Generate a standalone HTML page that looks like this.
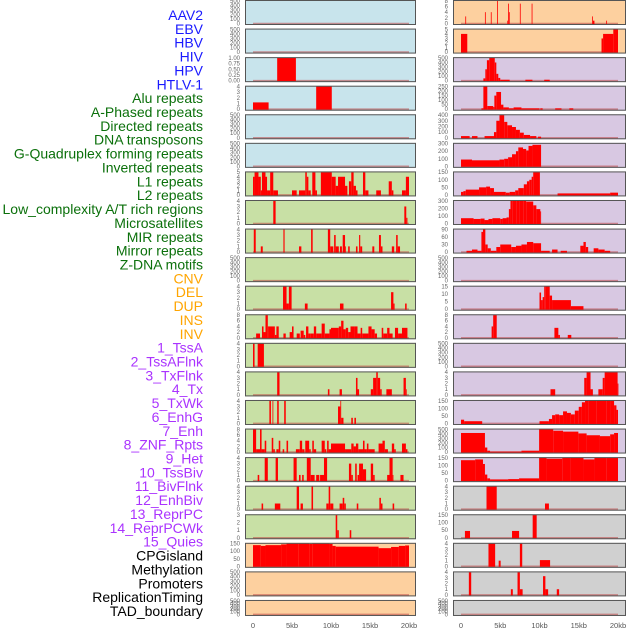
<!DOCTYPE html>
<html><head><meta charset="utf-8"><style>
body{margin:0;background:#fff;width:630px;height:630px;overflow:hidden}
svg{display:block;font-family:"Liberation Sans",sans-serif}
</style></head><body>
<svg id="chart" width="630" height="630" viewBox="0 0 630 630" xmlns="http://www.w3.org/2000/svg"></svg>
<script>
const trackLabels=["AAV2","EBV","HBV","HIV","HPV","HTLV-1","Alu repeats","A-Phased repeats","Directed repeats","DNA transposons","G-Quadruplex forming repeats","Inverted repeats","L1 repeats","L2 repeats","Low_complexity A/T rich regions","Microsatellites","MIR repeats","Mirror repeats","Z-DNA motifs","CNV","DEL","DUP","INS","INV","1_TssA","2_TssAFlnk","3_TxFlnk","4_Tx","5_TxWk","6_EnhG","7_Enh","8_ZNF_Rpts","9_Het","10_TssBiv","11_BivFlnk","12_EnhBiv","13_ReprPC","14_ReprPCWk","15_Quies","CPGisland","Methylation","Promoters","ReplicationTiming","TAD_boundary"];
const labelGroups=[6,13,5,15,5];
const groupColors=["#1a1aff","#0b700b","#ffa500","#aa33ff","#000000"];
const xTicks=[0,5,10,15,20];
const xTickLabels=["0","5kb","10kb","15kb","20kb"];
const T500=["0","100","200","300","400","500"],T4=["0","1","2","3","4"],T8=["0","2","4","6","8"],T150=["0","50","100","150"];
const leftBg=["#c8e4ec","#c8e4ec","#c8e4ec","#c8e4ec","#c8e4ec","#c8e4ec","#c8e0a5","#c8e0a5","#c8e0a5","#c8e0a5","#c8e0a5","#c8e0a5","#c8e0a5","#c8e0a5","#c8e0a5","#c8e0a5","#c8e0a5","#c8e0a5","#c8e0a5","#fdd09f","#fdd09f","#fdd09f"];
const rightBg=["#fdd09f","#fdd09f","#d8c8e2","#d8c8e2","#d8c8e2","#d8c8e2","#d8c8e2","#d8c8e2","#d8c8e2","#d8c8e2","#d8c8e2","#d8c8e2","#d8c8e2","#d8c8e2","#d8c8e2","#d8c8e2","#d8c8e2","#d0d0d0","#d0d0d0","#d0d0d0","#d0d0d0","#d0d0d0"];
const leftTicks=[T500,T500,["0.00","0.25","0.50","0.75","1.00"],T4,T500,T500,["0","1","2","3","4","5"],T4,T4,T500,T4,T8,T4,T4,T4,T8,T4,T4,["0","1","2","3"],T150,T500,T500];
const rightTicks=[T8,["0","1","2","3","4","5"],T500,["0","50","100","150","200","250"],["0","100","200","300","400"],["0","100","200","300"],T150,["0","100","200","300"],["0","30","60","90"],T500,["0","5","10","15"],T8,T500,T4,T150,T500,T150,T4,T150,T4,T4,T500];
const leftBars=[
[],[],
[[3.1,5.5,1]],
[[0,2.0,1.2],[8.1,10.1,4]],
[],[],
[[0,0.2,4],[0.2,0.7,5],[0.7,1.0,4],[1.0,1.15,1],[1.15,1.6,5],[1.6,1.8,4],[1.8,2.2,1],[2.2,2.6,5],[2.6,3.2,1],[5.0,5.6,1],[5.9,6.7,1],[6.7,6.9,5],[6.9,7.1,4],[7.1,7.4,1],[7.6,8.0,5],[8.0,8.2,1],[8.7,10.1,5],[10.1,10.6,4],[10.6,10.9,2],[10.9,11.8,4],[11.8,12.1,2],[12.3,12.6,3],[12.6,12.9,5],[12.9,13.2,2],[13.2,13.4,1],[14.1,14.4,5],[14.4,14.8,1],[15.8,16.4,1],[17.4,17.8,3],[17.8,18.0,1],[19.1,19.6,1],[19.6,20,4]],
[[2.6,2.9,4],[19.4,19.65,3],[19.65,19.8,1]],
[[0.1,0.35,4],[1.0,1.25,1],[3.9,4.05,4],[5.9,6.2,1],[7.45,7.65,4],[9.6,9.9,4],[9.9,10.3,1],[10.4,10.6,3],[10.6,11.0,1],[11.15,11.4,1],[11.5,11.8,3],[11.8,11.9,1],[12.2,12.4,1],[13.2,13.4,1],[13.6,13.75,3],[13.75,14.0,1],[15.3,15.55,1],[16.15,16.4,3],[16.4,16.6,1],[17.8,18.1,1],[18.35,18.55,3],[18.55,18.85,1]],
[],
[[3.85,4.3,4],[4.3,4.6,1],[4.6,4.95,4],[6.65,7.0,1],[11.15,11.6,1],[17.7,18.0,3],[18.0,18.15,1],[19.5,19.7,1]],
[[0.4,0.9,1.5],[1.15,1.35,4],[1.35,1.6,2],[1.6,1.9,8],[1.9,2.0,4],[2.0,2.8,4],[2.8,3.0,1],[3.0,3.3,4],[3.9,4.2,1.5],[4.7,5.0,2],[5.0,5.2,4],[5.6,6.0,1.5],[6.1,6.5,2.5],[6.5,6.7,1],[6.8,7.1,4],[7.1,7.4,1.5],[7.4,7.8,1.5],[7.8,8.1,4],[8.1,8.4,1.5],[8.4,8.8,1.5],[8.8,9.2,5],[9.2,9.8,1.5],[9.8,10.0,3],[10.0,11.0,3.5],[11.0,11.3,4],[11.3,11.6,6],[11.6,11.9,3],[11.9,12.2,3.5],[12.2,12.5,2],[12.5,13.0,4],[13.0,13.4,4],[13.4,13.8,1.5],[13.8,14.0,3.5],[14.0,14.8,1.5],[14.8,15.2,4],[15.2,15.6,3],[15.6,15.9,1.5],[16.5,16.7,3.5],[16.7,17.2,1.5],[17.2,17.5,3.5],[17.5,17.9,1.5],[18.2,18.6,3.5],[18.6,19.1,1.5],[19.1,19.8,3.5]],
[[0,0.2,4],[0.6,1.4,4]],
[[3.1,3.4,4],[9.6,9.8,1],[11.1,11.4,1],[13.2,13.4,3],[13.4,13.6,1],[15.1,15.4,1],[15.4,15.8,3],[15.8,16.0,4],[16.0,16.3,3],[16.3,16.5,1],[17.1,17.8,1],[19.3,19.6,3],[19.6,19.7,1]],
[[2.1,2.3,4],[2.5,2.6,4],[3.1,3.3,4],[4.0,4.2,4],[10.9,11.2,3],[11.2,11.3,4],[11.3,11.6,1],[12.6,12.8,1],[13.0,13.2,1]],
[[0,0.4,8],[0.4,0.9,1],[0.9,1.1,8],[1.1,1.5,1],[1.5,1.7,4],[2.4,2.6,5],[2.6,2.8,1],[3.0,3.3,1],[3.3,3.5,4],[3.8,4.0,1],[4.3,4.5,4],[5.5,6.0,1],[6.0,6.3,4],[6.3,6.6,1],[6.7,7.2,4],[7.2,7.4,1],[7.6,7.8,4],[7.8,8.1,1],[8.8,9.2,4],[9.2,9.4,1],[9.5,9.7,4],[9.7,10.0,1],[10.0,11.8,3],[11.8,12.6,1],[12.6,12.9,3],[12.9,13.2,2],[13.2,13.5,3],[13.5,14.1,1],[14.1,14.3,4],[14.3,14.6,1],[14.6,14.8,3],[14.8,15.6,1],[16.1,16.6,3],[16.6,16.9,4],[16.9,17.3,1],[17.8,18.1,3],[18.1,18.3,1],[19.1,19.6,3],[19.6,19.8,1]],
[[0.6,0.8,1],[1.5,1.9,4],[2.9,3.2,4],[5.2,5.6,4],[5.9,6.1,1],[6.3,6.5,1],[6.9,7.4,4],[7.4,7.9,1],[8.1,8.5,1],[8.6,9.1,1],[9.1,9.5,4],[12.3,12.6,3],[12.6,12.8,1],[13.1,13.3,3],[13.4,13.6,1],[13.6,14.1,3],[14.1,14.5,2],[15.1,15.4,3],[15.4,15.6,1],[17.2,17.5,1],[17.5,17.9,4],[17.9,18.0,1],[18.9,19.3,1]],
[[1.1,1.3,1],[2.8,3.5,1],[5.6,5.9,4],[6.1,6.4,1],[7.5,7.7,4],[9.4,9.7,1],[9.7,9.9,4],[9.9,10.3,1],[11.1,11.5,1],[11.5,11.7,2],[11.7,11.9,1],[13.3,13.5,1],[16.2,16.4,2],[16.4,16.6,1],[17.9,18.1,1]],
[[10.6,10.8,3],[10.8,11.0,1],[12.4,12.6,1]],
[[0,1.0,140],[1.0,1.6,135],[1.6,3.6,140],[3.6,4.3,145],[4.3,5.8,150],[5.8,7.2,152],[7.2,7.6,148],[7.6,9.8,152],[9.8,10.2,148],[10.2,10.6,135],[10.6,16.1,130],[16.1,17.7,120],[17.7,18.7,128],[18.7,19.5,135],[19.5,20,138]],
[],[]
];
const rightBars=[
[[0.55,0.65,2.5],[3.05,3.15,4],[3.8,3.9,4],[4.6,4.7,8],[5.9,6.0,1],[6.0,6.1,7],[6.1,6.2,4],[7.5,7.6,7],[9.0,9.1,7],[16.7,16.8,2.5],[16.8,17.0,1],[18.5,18.6,1]],
[[0,0.8,4],[17.9,18.1,3],[18.1,19.4,4],[19.4,20,5]],
[[2.85,3.1,50],[3.1,3.3,250],[3.3,3.6,450],[3.6,4.3,500],[4.3,4.5,400],[4.5,4.75,150],[4.75,5.0,60],[5.0,6.2,20],[8.2,9.1,20],[10.6,11.3,20]],
[[2.6,2.85,10],[2.85,3.35,250],[3.35,4.1,35],[4.1,4.25,25],[4.25,4.5,150],[4.5,5.1,190],[5.1,5.4,50],[5.4,6.1,20],[6.1,6.7,10],[6.7,7.7,20],[7.7,10.0,10],[10.1,10.4,10],[12.0,12.8,10],[13.8,14.3,10]],
[[0,1.1,30],[1.4,2.1,30],[3.0,4.2,30],[4.2,4.5,100],[4.5,4.9,300],[4.9,5.5,420],[5.5,5.9,280],[5.9,6.5,220],[6.5,7.0,190],[7.0,7.5,140],[7.5,8.0,90],[8.0,8.8,50],[8.8,9.6,30],[9.8,10.2,20]],
[[0,1.4,90],[1.4,4.9,80],[4.9,5.5,90],[5.5,6.0,100],[6.0,6.5,120],[6.5,7.0,160],[7.0,7.3,200],[7.3,7.9,250],[7.9,8.3,230],[8.3,8.6,210],[8.6,9.1,270],[9.1,10.2,285]],
[[0,0.3,20],[0.3,0.6,25],[0.6,2.3,35],[2.3,3.2,50],[3.2,3.7,55],[3.7,4.2,45],[4.2,5.7,20],[5.7,6.2,15],[6.2,6.9,20],[6.9,7.3,30],[7.3,8.0,45],[8.0,8.4,70],[8.4,8.7,90],[8.7,9.0,100],[9.0,9.2,120],[9.2,10.05,158],[12.3,19.0,10],[19.0,20,15]],
[[0,1.6,70],[1.6,2.5,60],[2.5,3.0,65],[3.0,3.5,45],[3.5,4.0,60],[4.0,5.0,70],[5.0,5.3,60],[5.3,5.8,70],[5.8,6.1,80],[6.1,6.3,190],[6.3,6.6,300],[6.6,7.1,320],[7.1,7.5,340],[7.5,8.0,360],[8.0,8.3,350],[8.3,9.2,290],[9.2,9.6,240],[9.6,10.1,190],[10.1,10.2,160]],
[[0.7,1.4,5],[1.4,2.1,10],[2.1,2.6,5],[2.6,2.8,80],[2.8,3.1,105],[3.1,3.4,30],[3.4,3.8,15],[3.8,4.5,5],[4.5,5.0,20],[5.0,6.4,30],[6.4,7.0,20],[7.0,7.7,25],[7.7,8.4,30],[8.4,9.2,40],[9.2,10.2,35],[10.2,11.3,5],[11.6,12.3,10],[12.7,13.5,5],[15.2,15.6,25],[15.6,15.9,40],[15.9,16.2,20],[16.9,17.5,15],[17.5,18.3,10],[18.3,19.0,5]],
[],
[[10.0,10.2,11],[10.2,10.4,6],[10.4,10.6,8],[10.6,10.8,15],[10.8,11.3,16],[11.3,11.6,9],[11.6,14.0,6],[14.0,15.6,2]],
[[3.9,4.1,4],[4.1,4.55,8],[11.9,12.4,3.5],[12.4,12.6,1],[13.6,14.05,1]],
[],
[[11.4,12.0,1],[15.7,16.0,3],[16.0,16.5,4],[16.5,16.8,1],[17.5,18.05,1],[18.05,18.3,3],[18.3,19.95,4],[19.95,20,2]],
[[0,0.4,25],[0.4,2.7,15],[10.0,11.2,15],[11.2,11.6,30],[11.6,12.0,55],[12.0,12.5,60],[12.5,13.0,55],[13.0,13.5,80],[13.5,14.0,70],[14.0,14.5,60],[14.5,15.0,85],[15.0,15.4,110],[15.4,15.8,140],[15.8,16.2,170],[16.2,17.3,185],[17.3,18.5,195],[18.5,19.1,185],[19.1,19.5,150],[19.5,19.8,120],[19.8,20,90]],
[[0,3.05,420],[3.05,3.35,100],[3.35,3.7,30],[3.7,7.7,10],[7.7,9.95,30],[9.95,11.75,500],[11.75,13.0,470],[13.0,14.95,450],[14.95,16.0,410],[16.0,17.7,370],[17.7,19.0,350],[19.0,19.5,390],[19.5,20,420]],
[[0,1.8,135],[1.8,2.8,140],[2.8,3.05,110],[3.05,3.35,40],[3.35,3.7,15],[3.7,6.0,8],[6.0,7.4,10],[7.4,9.95,15],[9.95,10.9,150],[10.9,12.9,145],[12.9,14.0,155],[14.0,15.6,150],[15.6,17.0,140],[17.0,18.5,150],[18.5,20,155]],
[[3.25,4.55,4],[10.7,11.2,1]],
[[0.5,1.15,45],[6.5,7.4,45],[9.13,9.64,165]],
[[3.5,4.35,4],[4.8,5.05,1],[7.5,7.8,4],[10.05,11.35,1.1]],
[[1.0,1.3,4],[6.35,6.6,1],[7.2,7.5,4],[7.5,7.85,1],[10.45,10.75,3.3],[10.75,11.1,1],[12.2,12.5,1]],
[]
];

const NS="http://www.w3.org/2000/svg";
const svg=document.getElementById('chart');
function mk(tag,attrs,parent){const e=document.createElementNS(NS,tag);for(const k in attrs)e.setAttribute(k,attrs[k]);(parent||svg).appendChild(e);return e;}

// labels
let li=0;
labelGroups.forEach((n,g)=>{for(let j=0;j<n;j++){
  const t=mk('text',{x:203,y:15+li*13.86+5,'text-anchor':'end','font-size':'14',fill:groupColors[g]});
  t.textContent=trackLabels[li];
  
  
  li++;
}});

const cols=[{x0:245,x1:416,zx:253,zw:156,bg:leftBg,ticks:leftTicks,bars:leftBars,tx:240,name:'left'},
            {x0:453,x1:626,zx:461,zw:157,bg:rightBg,ticks:rightTicks,bars:rightBars,tx:448,name:'right'}];
const rowTop=i=>i*28.57;
const rowH=i=>i===21?16:25;

cols.forEach(c=>{
  const xs=v=>c.zx+v/20*c.zw;
  for(let i=0;i<22;i++){
    const top=rowTop(i),h=rowH(i),bot=top+h;
    const g=mk('g',{});
    
    
    mk('rect',{x:c.x0,y:top,width:c.x1-c.x0,height:h,fill:c.bg[i]},g);
    const tk=c.ticks[i];const ymax=parseFloat(tk[tk.length-1]);
    const y0=bot-1.5,y1=top+0.8;
    const ys=v=>Math.max(y1,y0-(v/ymax)*(y0-y1));
    // baseline
    const bl=mk('line',{x1:xs(0),x2:xs(20),y1:y0,y2:y0,stroke:'rgba(190,70,70,0.55)','stroke-width':1.6},g);
    
    
    c.bars[i].forEach(b=>{
      const r=mk('rect',{x:xs(b[0]),y:ys(b[2]),width:Math.max(0.8,xs(Math.min(20,b[1]))-xs(b[0])),height:y0-ys(b[2])+0.5,fill:'#ff0000'},g);
      
      
    });
    const br=mk('rect',{x:c.x0+0.5,y:top+0.5,width:c.x1-c.x0-1,height:h-1,fill:'none',stroke:'#555','stroke-width':1},g);
    
    
    tk.forEach(s=>{
      const t=mk('text',{x:c.tx,y:ys(parseFloat(s))+2,'text-anchor':'end','font-size':'6',fill:'#666'},g);
      t.textContent=s;
      
      
    });
  }
  xTicks.forEach((v,k)=>{
    const t=mk('text',{x:xs(v),y:628,'text-anchor':'middle','font-size':'7.5',fill:'#555'});
    t.textContent=xTickLabels[k];
    
    
  });
});
</script>
</body></html>
